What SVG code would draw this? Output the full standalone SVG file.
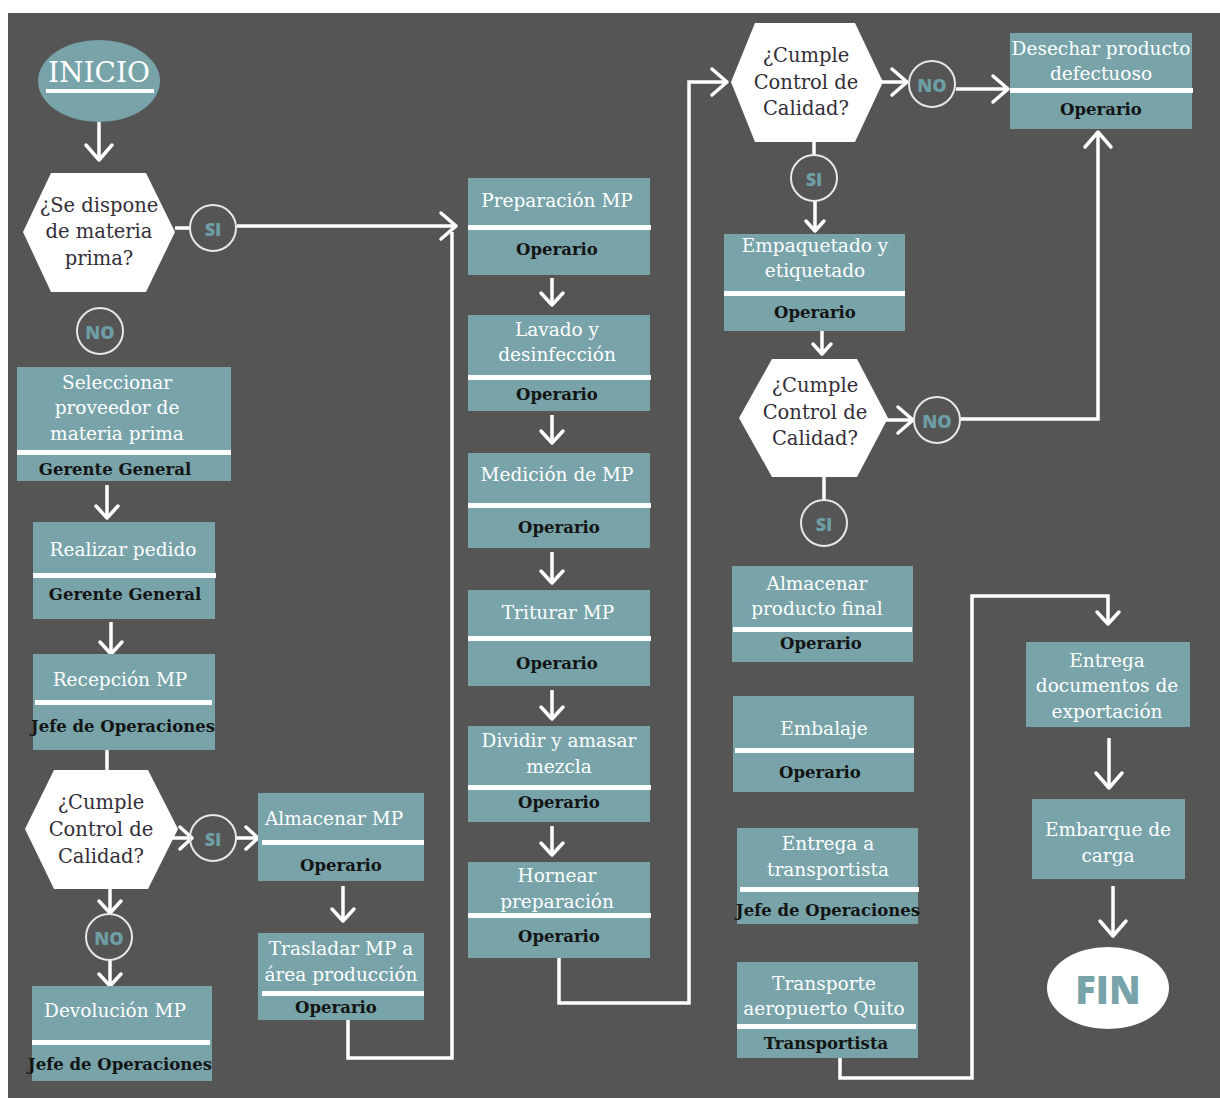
<svg xmlns="http://www.w3.org/2000/svg" width="1220" height="1098" viewBox="0 0 1220 1098">
<defs>
<style>
.box{fill:#77a3a9}
.div{fill:#ffffff}
.t{font-family:"DejaVu Serif","Liberation Serif",serif;font-size:18.5px;fill:#ffffff;text-anchor:middle;dominant-baseline:central}
.r{font-family:"DejaVu Serif","Liberation Serif",serif;font-size:16.5px;font-weight:bold;fill:#141414;text-anchor:middle;dominant-baseline:central}
.h{fill:#ffffff}
.ht{font-family:"DejaVu Serif","Liberation Serif",serif;font-size:19.5px;fill:#332e38;text-anchor:middle;dominant-baseline:central}
.c{fill:none;stroke:#e8e8e8;stroke-width:2}
.ct{font-family:"Open Sans","DejaVu Sans",sans-serif;font-size:18px;font-weight:800;fill:#6e9ea5;text-anchor:middle;dominant-baseline:central}
.ln{fill:none;stroke:#ffffff;stroke-width:3.5}
.hd{fill:none;stroke:#ffffff;stroke-width:3.5;stroke-linecap:round;stroke-linejoin:round}
</style>
<marker id="ab" viewBox="-3 -3 21 32" refX="15" refY="13" markerWidth="21" markerHeight="32" markerUnits="userSpaceOnUse" orient="auto"><path class="hd" d="M0,0 L15,13 L0,26"/></marker>
<marker id="am" viewBox="-3 -3 18 28" refX="12" refY="11" markerWidth="18" markerHeight="28" markerUnits="userSpaceOnUse" orient="auto"><path class="hd" d="M0,0 L12,11 L0,22"/></marker>
<marker id="as" viewBox="-3 -3 16 24" refX="10" refY="9" markerWidth="16" markerHeight="24" markerUnits="userSpaceOnUse" orient="auto"><path class="hd" d="M0,0 L10,9 L0,18"/></marker>
</defs>
<rect x="0" y="0" width="1220" height="1098" fill="#ffffff"/>
<rect x="8" y="13" width="1212" height="1085" fill="#555555"/>

<g id="connectors">
<path class="ln" d="M99,122 V160" marker-end="url(#ab)"/>
<path class="ln" d="M175,228 H190"/>
<path class="ln" d="M237,226 H456" marker-end="url(#ab)"/>
<path class="ln" d="M348,1020 V1058 H452 V232"/>
<path class="ln" d="M107,485 V518" marker-end="url(#am)"/>
<path class="ln" d="M111,622 V654" marker-end="url(#am)"/>
<path class="ln" d="M107,750 V770"/>
<path class="ln" d="M170,838 H192" marker-end="url(#am)"/>
<path class="ln" d="M235,838 H258" marker-end="url(#am)"/>
<path class="ln" d="M110,889 V913" marker-end="url(#am)"/>
<path class="ln" d="M110,960 V986" marker-end="url(#am)"/>
<path class="ln" d="M343,886 V921" marker-end="url(#am)"/>
<path class="ln" d="M552,278 V305" marker-end="url(#am)"/>
<path class="ln" d="M552,415 V443" marker-end="url(#am)"/>
<path class="ln" d="M552,552 V583" marker-end="url(#am)"/>
<path class="ln" d="M552,690 V719" marker-end="url(#am)"/>
<path class="ln" d="M552,826 V855" marker-end="url(#am)"/>
<path class="ln" d="M559,958 V1003 H689 V82 H727" marker-end="url(#ab)"/>
<path class="ln" d="M881,82 H907" marker-end="url(#ab)"/>
<path class="ln" d="M956,89 H1008" marker-end="url(#ab)"/>
<path class="ln" d="M814,142 V155"/>
<path class="ln" d="M815,201 V231" marker-end="url(#as)"/>
<path class="ln" d="M822,331 V354" marker-end="url(#as)"/>
<path class="ln" d="M886,420 H913" marker-end="url(#ab)"/>
<path class="ln" d="M960,419 H1098 V132" marker-end="url(#ab)"/>
<path class="ln" d="M824,477 V500"/>
<path class="ln" d="M840,1058 V1078 H972 V596 H1108 V624" marker-end="url(#am)"/>
<path class="ln" d="M1109,738 V788" marker-end="url(#ab)"/>
<path class="ln" d="M1113,886 V936" marker-end="url(#ab)"/>
</g>

<g id="inicio">
<ellipse cx="99" cy="81" rx="61" ry="41" fill="#77a3a9"/>
<text x="99" y="72" font-family="DejaVu Serif, Liberation Serif, serif" font-size="28" fill="#ffffff" text-anchor="middle" dominant-baseline="central">INICIO</text>
<rect x="46" y="89" width="108" height="4" fill="#ffffff"/>
</g>

<g id="dec1">
<polygon class="h" points="23,232 51,173 146,173 175,232 146,292 51,292"/>
<text class="ht" x="99" y="205">¿Se dispone</text>
<text class="ht" x="99" y="231">de materia</text>
<text class="ht" x="99" y="258">prima?</text>
</g>
<g id="si1"><circle class="c" cx="213" cy="228" r="23"/><text class="ct" x="213" y="229">SI</text></g>
<g id="no1"><circle class="c" cx="100" cy="331" r="23"/><text class="ct" x="100" y="332">NO</text></g>

<g id="seleccionar">
<rect class="box" x="17" y="367" width="214" height="114"/>
<rect class="div" x="17" y="450" width="214" height="5"/>
<text class="t" x="117" y="382">Seleccionar</text>
<text class="t" x="117" y="407">proveedor de</text>
<text class="t" x="117" y="433">materia prima</text>
<text class="r" x="115" y="469">Gerente General</text>
</g>

<g id="realizar">
<rect class="box" x="33" y="522" width="182" height="97"/>
<rect class="div" x="33" y="573" width="183" height="5"/>
<text class="t" x="123" y="549">Realizar pedido</text>
<text class="r" x="125" y="594">Gerente General</text>
</g>

<g id="recepcion">
<rect class="box" x="33" y="654" width="182" height="96"/>
<rect class="div" x="35" y="700" width="177" height="5"/>
<text class="t" x="120" y="679">Recepción MP</text>
<text class="r" x="123" y="726">Jefe de Operaciones</text>
</g>

<g id="dec2">
<polygon class="h" points="25,829 54,770 148,770 178,829 148,889 54,889"/>
<text class="ht" x="101" y="802">¿Cumple</text>
<text class="ht" x="101" y="829">Control de</text>
<text class="ht" x="101" y="856">Calidad?</text>
</g>
<g id="si2"><circle class="c" cx="213" cy="838" r="23"/><text class="ct" x="213" y="839">SI</text></g>
<g id="no2"><circle class="c" cx="109" cy="937" r="23"/><text class="ct" x="109" y="938">NO</text></g>

<g id="devolucion">
<rect class="box" x="32" y="986" width="180" height="95"/>
<rect class="div" x="32" y="1040" width="178" height="5"/>
<text class="t" x="115" y="1010">Devolución MP</text>
<text class="r" x="120" y="1064">Jefe de Operaciones</text>
</g>

<g id="almacenarmp">
<rect class="box" x="258" y="793" width="166" height="88"/>
<rect class="div" x="262" y="840" width="162" height="5"/>
<text class="t" x="334" y="818">Almacenar MP</text>
<text class="r" x="341" y="865">Operario</text>
</g>

<g id="trasladar">
<rect class="box" x="258" y="933" width="166" height="87"/>
<rect class="div" x="262" y="991" width="162" height="5"/>
<text class="t" x="341" y="948">Trasladar MP a</text>
<text class="t" x="341" y="974">área producción</text>
<text class="r" x="336" y="1007">Operario</text>
</g>

<g id="preparacion">
<rect class="box" x="468" y="178" width="182" height="97"/>
<rect class="div" x="468" y="225" width="183" height="5"/>
<text class="t" x="557" y="200">Preparación MP</text>
<text class="r" x="557" y="249">Operario</text>
</g>

<g id="lavado">
<rect class="box" x="468" y="315" width="182" height="96"/>
<rect class="div" x="468" y="375" width="183" height="5"/>
<text class="t" x="557" y="329">Lavado y</text>
<text class="t" x="557" y="354">desinfección</text>
<text class="r" x="557" y="394">Operario</text>
</g>

<g id="medicion">
<rect class="box" x="468" y="453" width="182" height="95"/>
<rect class="div" x="468" y="503" width="183" height="5"/>
<text class="t" x="557" y="474">Medición de MP</text>
<text class="r" x="559" y="527">Operario</text>
</g>

<g id="triturar">
<rect class="box" x="468" y="590" width="182" height="96"/>
<rect class="div" x="468" y="636" width="183" height="5"/>
<text class="t" x="558" y="612">Triturar MP</text>
<text class="r" x="557" y="663">Operario</text>
</g>

<g id="dividir">
<rect class="box" x="468" y="726" width="182" height="96"/>
<rect class="div" x="468" y="785" width="183" height="5"/>
<text class="t" x="559" y="740">Dividir y amasar</text>
<text class="t" x="559" y="766">mezcla</text>
<text class="r" x="559" y="802">Operario</text>
</g>

<g id="hornear">
<rect class="box" x="468" y="862" width="182" height="96"/>
<rect class="div" x="468" y="913" width="183" height="5"/>
<text class="t" x="557" y="875">Hornear</text>
<text class="t" x="557" y="901">preparación</text>
<text class="r" x="559" y="936">Operario</text>
</g>

<g id="dec3">
<polygon class="h" points="731,82 755,23 855,23 883,82 855,142 755,142"/>
<text class="ht" x="806" y="55">¿Cumple</text>
<text class="ht" x="806" y="82">Control de</text>
<text class="ht" x="806" y="108">Calidad?</text>
</g>
<g id="no3"><circle class="c" cx="932" cy="84" r="23"/><text class="ct" x="932" y="85">NO</text></g>
<g id="si3"><circle class="c" cx="814" cy="178" r="23"/><text class="ct" x="814" y="179">SI</text></g>

<g id="desechar">
<rect class="box" x="1010" y="33" width="182" height="96"/>
<rect class="div" x="1010" y="88" width="183" height="5"/>
<text class="t" x="1101" y="48">Desechar producto</text>
<text class="t" x="1101" y="73">defectuoso</text>
<text class="r" x="1101" y="109">Operario</text>
</g>

<g id="empaquetado">
<rect class="box" x="724" y="234" width="181" height="97"/>
<rect class="div" x="724" y="291" width="181" height="5"/>
<text class="t" x="815" y="245">Empaquetado y</text>
<text class="t" x="815" y="270">etiquetado</text>
<text class="r" x="815" y="312">Operario</text>
</g>

<g id="dec4">
<polygon class="h" points="739,418 772,359 857,359 888,418 857,477 772,477"/>
<text class="ht" x="815" y="385">¿Cumple</text>
<text class="ht" x="815" y="412">Control de</text>
<text class="ht" x="815" y="438">Calidad?</text>
</g>
<g id="no4"><circle class="c" cx="937" cy="420" r="23"/><text class="ct" x="937" y="421">NO</text></g>
<g id="si4"><circle class="c" cx="824" cy="523" r="23"/><text class="ct" x="824" y="524">SI</text></g>

<g id="almacenarpf">
<rect class="box" x="732" y="566" width="181" height="96"/>
<rect class="div" x="733" y="627" width="179" height="5"/>
<text class="t" x="817" y="583">Almacenar</text>
<text class="t" x="817" y="608">producto final</text>
<text class="r" x="821" y="643">Operario</text>
</g>

<g id="embalaje">
<rect class="box" x="733" y="696" width="181" height="96"/>
<rect class="div" x="735" y="748" width="179" height="5"/>
<text class="t" x="824" y="728">Embalaje</text>
<text class="r" x="820" y="772">Operario</text>
</g>

<g id="entregatransportista">
<rect class="box" x="737" y="828" width="181" height="96"/>
<rect class="div" x="740" y="887" width="179" height="5"/>
<text class="t" x="828" y="843">Entrega a</text>
<text class="t" x="828" y="869">transportista</text>
<text class="r" x="828" y="910">Jefe de Operaciones</text>
</g>

<g id="transporte">
<rect class="box" x="737" y="962" width="181" height="96"/>
<rect class="div" x="737" y="1024" width="179" height="5"/>
<text class="t" x="824" y="983">Transporte</text>
<text class="t" x="824" y="1008">aeropuerto Quito</text>
<text class="r" x="826" y="1043">Transportista</text>
</g>

<g id="entregadocs">
<rect class="box" x="1026" y="642" width="164" height="85"/>
<text class="t" x="1107" y="660">Entrega</text>
<text class="t" x="1107" y="685">documentos de</text>
<text class="t" x="1107" y="711">exportación</text>
</g>

<g id="embarque">
<rect class="box" x="1032" y="799" width="153" height="80"/>
<text class="t" x="1108" y="829">Embarque de</text>
<text class="t" x="1108" y="855">carga</text>
</g>

<g id="fin">
<ellipse cx="1108" cy="988" rx="61" ry="41" fill="#ffffff"/>
<text x="1108" y="989" font-family="Open Sans, DejaVu Sans, sans-serif" font-size="38" font-weight="800" fill="#77a3a9" text-anchor="middle" dominant-baseline="central">FIN</text>
</g>
</svg>
